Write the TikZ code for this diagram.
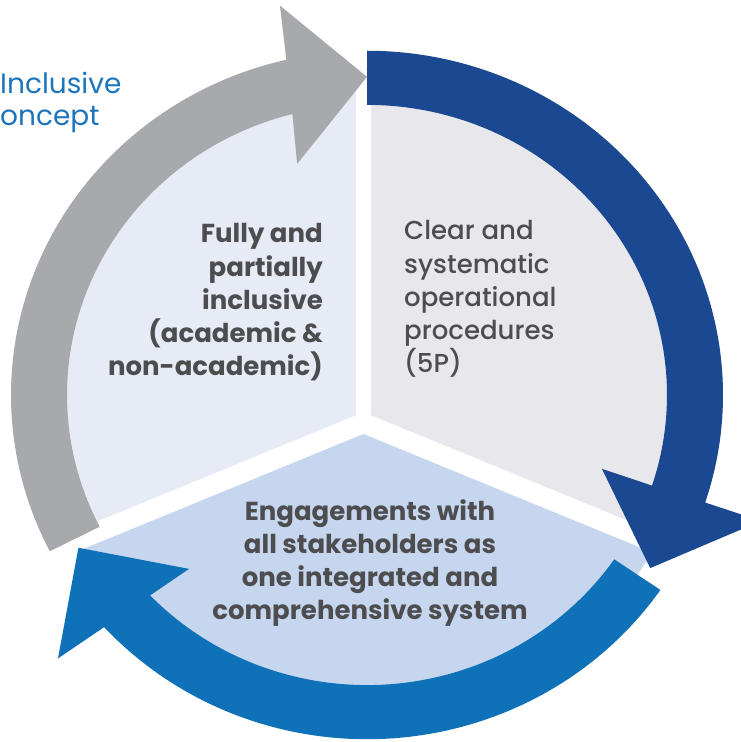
\documentclass[tikz,border=0pt]{standalone}
\usepackage{fontspec}
\setmainfont{Poppins}
\newfontfamily\popmedium{Poppins Medium}

\definecolor{arrgrey}{HTML}{A7A9AC}
\definecolor{arrnavy}{HTML}{1A4891}
\definecolor{arrblue}{HTML}{0F72B9}
\definecolor{secleft}{HTML}{E6EBF6}
\definecolor{secright}{HTML}{E8E8EC}
\definecolor{secbottom}{HTML}{C5D6EE}
\definecolor{txtgrey}{HTML}{4D4D4F}
\definecolor{ttlblue}{HTML}{1C75BC}

\begin{document}
\begin{tikzpicture}[x=1pt, y=1pt,
    lbl/.style={inner sep=0pt, text=txtgrey, font=\popmedium\fontsize{26}{33.3}\selectfont},
    lblb/.style={lbl, font=\fontsize{26}{33.3}\selectfont\bfseries},
    ttl/.style={inner sep=0pt, text=ttlblue, font=\fontsize{28}{32}\selectfont},
    gap/.style={white, line width=15pt}
  ]
  \useasboundingbox (0,0) rectangle (741,742);

  \begin{scope}[shift={(367,347)}, yscale=0.967]
    \coordinate (hub) at (-3.5,-29);
    % the three sectors
    \begin{scope}
      \clip (0,0) circle[radius=328];
      \fill[secleft] (0,0) circle[radius=328];
      \fill[secright] (hub) -- (-3.5,600) -- (600,600) -- (600,-285) -- cycle;
      \fill[secbottom] (hub) -- (600,-285) -- (600,-600) -- (-600,-600) -- (-600,-282) -- cycle;
      \draw[gap] (hub) -- ++(90:400);
      \draw[gap, line width=20pt] (hub) -- ++(203:400) (hub) -- ++(-23:400);
    \end{scope}
    % arrows round the circle
    \fill[arrgrey] (207:300) arc[start angle=207, end angle=104.4, radius=300]
      -- (106.3:249) -- (90:329) -- (102.2:412) -- (103.1:356)
      arc[start angle=103.1, end angle=207, radius=356] -- cycle;
    \fill[arrnavy] (90:300) -- (90:356) arc[start angle=90, end angle=-18.2, radius=356]
      -- (-18.3:415) -- (-32.3:335) -- (-18:247) -- (-18.2:300)
      arc[start angle=-18.2, end angle=90, radius=300] -- cycle;
    \fill[arrblue] (-34.5:300) -- (-34.5:356) arc[start angle=-34.5, end angle=-137.6, radius=356]
      -- (221.4:412) -- (208.7:329) -- (225.3:253) -- (223.7:300)
      arc[start angle=-136.3, end angle=-34.5, radius=300] -- cycle;
  \end{scope}

  \node[lblb, align=right, anchor=base east] (inclusive) at (323,366)
    {Fully and\\partially\\inclusive\\(academic \&\\non-academic)};
  \node[lbl, align=left, anchor=base west] (procedures) at (404,369)
    {Clear and\\systematic\\operational\\procedures\\(5P)};
  \node[lblb, align=center, anchor=base] (engage) at (370,122)
    {Engagements with\\all stakeholders as\\one integrated and\\comprehensive system};
  \node[ttl, anchor=base west] (concept1) at (0,648) {Inclusive};
  \node[ttl, anchor=base west] (concept2) at (0,616) {oncept};
\end{tikzpicture}
\end{document}
